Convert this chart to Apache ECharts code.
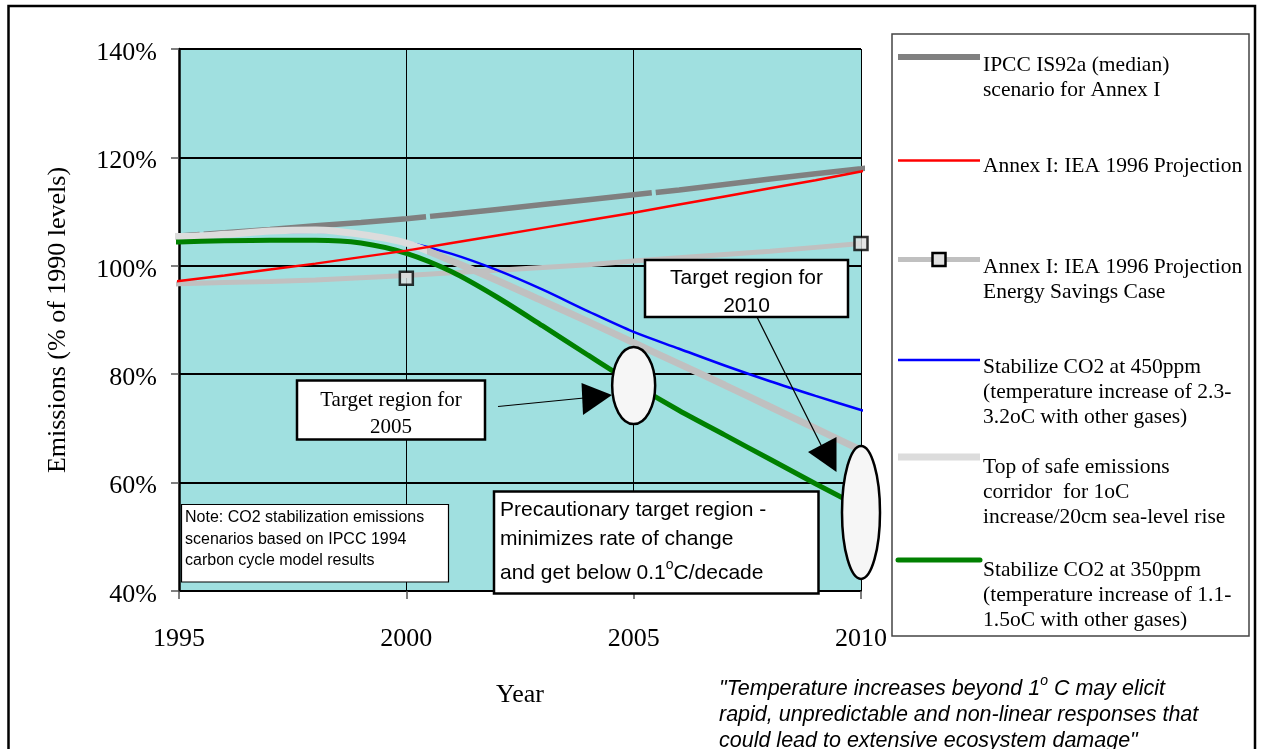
<!DOCTYPE html>
<html><head><meta charset="utf-8">
<script src="https://cdn.jsdelivr.net/npm/echarts@6/dist/echarts.min.js"></script>
<style>html,body{margin:0;padding:0;background:#fff}#c{width:1261px;height:749px}</style>
</head><body><div id="c"></div>
<script>
// ---- data ----
const years = [1994.82, 1995, 1996, 1997, 1998, 1999, 2000, 2001, 2002, 2003, 2004, 2005, 2006, 2007, 2008, 2009, 2010, 2010.17];
const ipccIS92a   = [105.4, 105.5, 106.1, 106.7, 107.4, 108.0, 108.7, 109.5, 110.4, 111.3, 112.2, 113.1, 114.0, 115.0, 116.0, 117.0, 117.9, 118.1];
const iea1996     = [97.0, 97.2, 98.2, 99.3, 100.4, 101.6, 102.8, 104.2, 105.6, 107.0, 108.4, 109.8, 111.3, 112.8, 114.3, 115.8, 117.4, 117.7];
const ieaSavings  = [96.6, 96.7, 96.9, 97.1, 97.4, 97.8, 98.2, 98.7, 99.2, 99.7, 100.2, 100.9, 101.5, 102.1, 102.7, 103.4, 104.1, null];
const savingsPointYears = [2000, 2010];
const savingsPointVals  = [97.7, 104.1];
const co2_450     = [null, 105.4, 105.8, 106.2, 106.3, 105.8, 104.4, 102.2, 99.2, 95.6, 91.6, 87.8, 84.7, 81.6, 78.7, 76.0, 73.4, 73.0];
const corridorTop = [105.4, 105.4, 105.8, 106.4, 106.6, 105.8, 104.2, 100.9, 97.3, 93.5, 89.7, 85.8, 81.9, 78.0, 74.0, 70.0, 66.0, null];
const corridorColourSwitchYear = 2000.45;
const co2_350     = [104.3, 104.4, 104.6, 104.7, 104.7, 104.2, 102.3, 98.9, 94.2, 88.9, 83.5, 78.2, 73.3, 68.8, 64.3, 59.8, 55.4, null];
const yTicks = {min: 40, max: 140, step: 20};
const xTicks = {min: 1995, max: 2010, step: 5};

const SERIF = "'Liberation Serif','Times New Roman',serif";
const SANS = "'Liberation Sans',Arial,sans-serif";

function pts(arr){ const out=[]; years.forEach((x,i)=>{ if(arr[i]!=null) out.push([x,arr[i]]); }); return out; }

const chart = echarts.init(document.getElementById('c'), null, {renderer:'canvas'});

const option = {
  animation: false,
  backgroundColor: '#ffffff',
  grid: {left:179, top:49, width:682, height:542, show:true, backgroundColor:'#a0e0e0', borderWidth:0},
  xAxis: {
    type:'value', min:xTicks.min, max:xTicks.max, interval:xTicks.step,
    name:'Year', nameLocation:'middle', nameGap:91,
    nameTextStyle:{fontFamily:SERIF, fontSize:26, color:'#000'},
    axisLine:{show:true, onZero:false, lineStyle:{color:'#000', width:2}},
    axisTick:{show:true, length:8, lineStyle:{color:'#555', width:1.5}},
    axisLabel:{fontFamily:SERIF, fontSize:26, color:'#000', margin:35, formatter:v=>String(v)},
    splitLine:{show:true, lineStyle:{color:'#000', width:1}}
  },
  yAxis: {
    type:'value', min:yTicks.min, max:yTicks.max, interval:yTicks.step,
    name:'Emissions (% of 1990 levels)', nameLocation:'middle', nameGap:108,
    nameTextStyle:{fontFamily:SERIF, fontSize:26, color:'#000'},
    axisLine:{show:true, lineStyle:{color:'#000', width:2.5}},
    axisTick:{show:true, length:8, lineStyle:{color:'#555', width:1.5}},
    axisLabel:{color:'#000', margin:22, formatter:v=>'{a|'+v+'%}',
      rich:{a:{fontFamily:SERIF, fontSize:26, color:'#000', padding:[8,0,0,0]}}},
    splitLine:{show:true, lineStyle:{color:'#000', width:2}}
  },
  series: [
    {name:'Annex I: IEA 1996 Projection Energy Savings Case', type:'line', data:pts(ieaSavings), showSymbol:false, symbol:'none', clip:false,
      lineStyle:{color:'#c0c0c0', width:5}},
    {name:'IPCC IS92a (median) scenario for Annex I', type:'line', data:pts(ipccIS92a), showSymbol:false, symbol:'none', clip:false,
      lineStyle:{color:'#808080', width:5.5, type:[223,4], dashOffset:194, cap:'butt'}},
    {name:'Stabilize CO2 at 450ppm', type:'line', data:pts(co2_450), showSymbol:false, symbol:'none', clip:false, smooth:0.3,
      lineStyle:{color:'#0000ff', width:2.5}},
    {name:'Top of safe emissions corridor', type:'line', data:pts(corridorTop), showSymbol:false, symbol:'none', clip:false, smooth:0.3,
      lineStyle:{color:'#dcdcdc', width:7, cap:'butt'}},
    {name:'Stabilize CO2 at 350ppm', type:'line', data:pts(co2_350), showSymbol:false, symbol:'none', clip:false, smooth:0.3,
      lineStyle:{color:'#008000', width:5}},
    {name:'Annex I: IEA 1996 Projection', type:'line', data:pts(iea1996), showSymbol:false, symbol:'none', clip:false,
      lineStyle:{color:'#ff0000', width:2.5}},
    {name:'IEA savings points', type:'scatter', data:savingsPointYears.map((y,i)=>[y, savingsPointVals[i]]), clip:false,
      symbol:'rect', symbolSize:13, itemStyle:{color:'#e0e0e0', borderColor:'#000', borderWidth:2.5}, z:5}
  ]
};
chart.setOption(option);

// corridor colour switches from light grey to silver just after 2000
const switchPx = chart.convertToPixel({gridIndex:0}, [corridorColourSwitchYear, 100])[0];
chart.setOption({series:[{},{},{},{lineStyle:{color:new echarts.graphic.LinearGradient(0,0,1261,0,[
  {offset:0,color:'#dcdcdc'},{offset:switchPx/1261,color:'#dcdcdc'},{offset:switchPx/1261+0.0005,color:'#c0c0c0'},{offset:1,color:'#c0c0c0'}], true)}}]});

// ---- annotations ----
const e05 = chart.convertToPixel({gridIndex:0}, [2005, 77.9]);
const e10 = chart.convertToPixel({gridIndex:0}, [2010, 54.5]);

function box(x1,y1,x2,y2,w){ return {type:'rect', shape:{x:x1,y:y1,width:x2-x1,height:y2-y1}, style:{fill:'#fff', stroke:'#000', lineWidth:w}, z:100}; }
function txt(x,y,text,font,align,extra){ return {type:'text', z:101, style:Object.assign({x:x,y:y,text:text,font:font,fill:'#000',textAlign:align||'left',textVerticalAlign:'middle'}, extra||{})}; }
function line(x1,y1,x2,y2,color,w,cap){ return {type:'line', z:90, shape:{x1,y1,x2,y2}, style:{stroke:color, lineWidth:w, lineCap:cap||'butt'}}; }

const serif21 = "21px " + SERIF;
const sans21 = "21px " + SANS;
const legFont = "21.5px " + SERIF;

const graphics = [
  {type:'rect', shape:{x:8.5, y:6, width:1246.5, height:770}, style:{fill:null, stroke:'#000', lineWidth:2.5}, z:80},
  {type:'ellipse', z:95, shape:{cx:e05[0], cy:e05[1], rx:21.5, ry:38.5}, style:{fill:'#f6f6f6', stroke:'#000', lineWidth:2.5}},
  {type:'ellipse', z:95, shape:{cx:e10[0], cy:e10[1], rx:19, ry:66.5}, style:{fill:'#f6f6f6', stroke:'#000', lineWidth:2.5}},
  line(498,406.5,584,398,'#000',1.2),
  {type:'polygon', z:96, shape:{points:[[581.5,383],[583,415],[612,395]]}, style:{fill:'#000'}},
  line(757,317,822,447,'#000',1.2),
  {type:'polygon', z:96, shape:{points:[[808,452],[836.5,437],[836.5,472]]}, style:{fill:'#000'}},
  box(181.5,504.5,448.5,582,1.2),
  txt(185,518,'Note: CO2 stabilization emissions',"16px "+SANS),
  txt(185,540,'scenarios based on IPCC 1994',"16px "+SANS),
  txt(185,561,'carbon cycle model results',"16px "+SANS),
  box(297,380.5,485,439.5,2.5),
  txt(391,400,'Target region for',serif21,'center'),
  txt(391,427,'2005',serif21,'center'),
  box(645,260,848,317,2.5),
  txt(746.5,278.5,'Target region for',sans21,'center'),
  txt(746.5,306,'2010',sans21,'center'),
  box(494,491.5,818.5,593.5,2.5),
  txt(500,510,'Precautionary target region -',sans21),
  txt(500,539.5,'minimizes rate of change',sans21),
  {type:'text', z:101, style:{x:500, y:573, text:'{n|and get below 0.1}{s|o}{n|C/decade}', textVerticalAlign:'middle',
    rich:{n:{fontFamily:SANS, fontSize:21, lineHeight:30, fill:'#000', color:'#000'}, s:{fontFamily:SANS, fontSize:14, lineHeight:14, verticalAlign:'top', fill:'#000', color:'#000'}}}},
  {type:'text', z:101, style:{x:719, y:689, text:'{n|"Temperature increases beyond 1}{s|o}{n| C may elicit}', textVerticalAlign:'middle',
    rich:{n:{fontFamily:SANS, fontStyle:'italic', fontSize:21.5, lineHeight:30, fill:'#000', color:'#000'}, s:{fontFamily:SANS, fontStyle:'italic', fontSize:14, lineHeight:14, verticalAlign:'top', fill:'#000', color:'#000'}}}},
  txt(719,715.5,'rapid, unpredictable and non-linear responses that',"italic 21.5px "+SANS),
  txt(719,741,'could lead to extensive ecosystem damage"',"italic 21.5px "+SANS),
  {type:'rect', z:80, shape:{x:892, y:34, width:357, height:602}, style:{fill:'#fff', stroke:'#444', lineWidth:1.5}},
  line(898,57,980,57,'#808080',6),
  line(898,160.5,980,160.5,'#ff0000',2.5),
  line(898,259.5,980,259.5,'#c0c0c0',5),
  {type:'rect', z:91, shape:{x:932.5, y:253, width:13, height:13}, style:{fill:'#e0e0e0', stroke:'#000', lineWidth:2.5}},
  line(898,360,980,360,'#0000ff',2.5),
  line(898,457,980,457,'#dcdcdc',7),
  line(898,560,980,560,'#008000',5,'round'),
  {type:'text', z:101, style:{x:983, y:53, text:'IPCC IS92a (median)\nscenario for Annex I', font:legFont, lineHeight:25, fill:'#000', textVerticalAlign:'top'}},
  {type:'text', z:101, style:{x:983, y:153.5, text:'Annex I: IEA 1996 Projection', font:legFont, lineHeight:25, fill:'#000', textVerticalAlign:'top'}},
  {type:'text', z:101, style:{x:983, y:254.5, text:'Annex I: IEA 1996 Projection\nEnergy Savings Case', font:legFont, lineHeight:25, fill:'#000', textVerticalAlign:'top'}},
  {type:'text', z:101, style:{x:983, y:354.5, text:'Stabilize CO2 at 450ppm\n(temperature increase of 2.3-\n3.2oC with other gases)', font:legFont, lineHeight:25, fill:'#000', textVerticalAlign:'top'}},
  {type:'text', z:101, style:{x:983, y:455, text:'Top of safe emissions\ncorridor  for 1oC\nincrease/20cm sea-level rise', font:legFont, lineHeight:25, fill:'#000', textVerticalAlign:'top'}},
  {type:'text', z:101, style:{x:983, y:557.5, text:'Stabilize CO2 at 350ppm\n(temperature increase of 1.1-\n1.5oC with other gases)', font:legFont, lineHeight:25, fill:'#000', textVerticalAlign:'top'}}
];
chart.setOption({graphic: graphics});
</script>
</body></html>
